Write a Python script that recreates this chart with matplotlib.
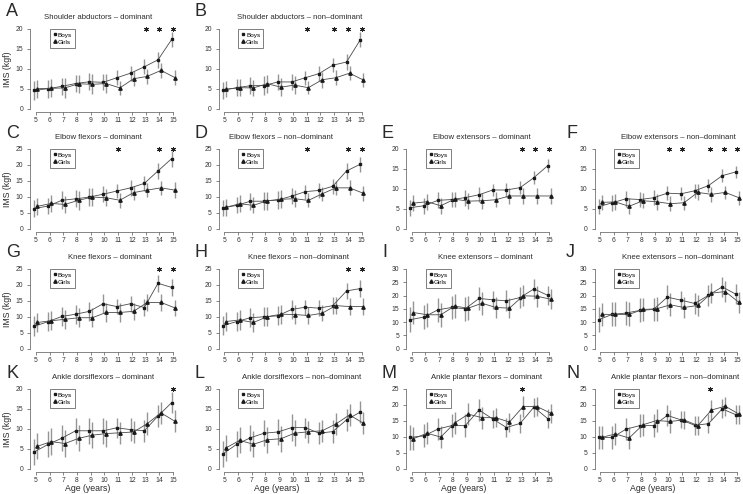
import matplotlib
matplotlib.use('Agg')
import matplotlib.pyplot as plt
from matplotlib.lines import Line2D
import numpy as np

plt.rcParams['font.family'] = ['Liberation Sans', 'DejaVu Sans']

ages = np.arange(5, 16)

# A  shoulder abductors - dominant
A_boys = [4.6, 5.0, 5.6, 6.3, 6.75, 6.6, 7.75, 8.9, 10.5, 12.25, 17.4]
A_girls = [5.0, 5.1, 5.2, 6.25, 6.1, 6.3, 5.2, 7.5, 8.1, 9.6, 7.8]
A_boys_sd = [2.4, 2.3, 2.2, 2.2, 2.1, 2.0, 1.9, 1.9, 1.9, 2.0, 1.8]
A_girls_sd = [2.3, 2.3, 2.5, 2.3, 2.5, 2.4, 1.8, 1.9, 1.9, 1.8, 1.8]
A_sig = [13, 14, 15]

# B  shoulder abductors - non-dominant
B_boys = [4.6, 5.25, 5.75, 5.8, 6.7, 6.7, 7.75, 8.8, 10.9, 11.7, 17.25]
B_girls = [4.9, 5.25, 5.2, 6.25, 5.4, 5.9, 5.25, 7.25, 7.75, 8.9, 7.2]
B_boys_sd = [2.2, 2.2, 2.2, 2.3, 2.1, 2.1, 1.8, 1.9, 1.8, 1.9, 1.9]
B_girls_sd = [2.1, 2.1, 2.0, 2.3, 2.3, 2.3, 1.7, 2.0, 1.9, 1.8, 1.8]
B_sig = [11, 13, 14, 15]

# C  elbow flexors - dominant
C_boys = [6.3, 7.1, 8.9, 9.35, 9.9, 10.8, 11.8, 12.8, 14.2, 18.1, 22.0]
C_girls = [7.0, 7.9, 7.6, 8.9, 9.9, 9.7, 8.9, 11.3, 12.1, 12.8, 12.1]
C_boys_sd = [2.7, 2.6, 2.8, 2.7, 2.7, 2.5, 2.3, 2.5, 2.3, 2.5, 2.5]
C_girls_sd = [2.6, 2.7, 2.6, 2.9, 2.8, 2.6, 2.3, 2.2, 2.3, 2.3, 2.4]
C_sig = [11, 14, 15]

# D  elbow flexors - non-dominant
D_boys = [6.5, 7.3, 8.6, 8.6, 9.0, 10.2, 11.6, 12.0, 13.3, 18.1, 20.2]
D_girls = [6.7, 7.8, 7.3, 8.75, 9.2, 9.4, 8.85, 10.9, 12.8, 12.8, 11.1]
D_boys_sd = [2.6, 2.5, 2.7, 2.8, 2.8, 2.5, 2.2, 2.4, 2.3, 2.4, 2.3]
D_girls_sd = [2.6, 2.7, 2.5, 2.8, 2.8, 2.6, 2.2, 2.3, 2.3, 2.4, 2.3]
D_sig = [11, 14, 15]

# E  elbow extensors - dominant
E_boys = [5.25, 5.75, 7.1, 7.3, 7.8, 8.5, 9.7, 9.7, 10.3, 12.8, 15.8]
E_girls = [6.4, 6.75, 5.75, 7.4, 6.9, 7.0, 7.25, 8.2, 8.2, 8.2, 8.2]
E_boys_sd = [2.0, 2.0, 2.0, 1.9, 2.0, 1.9, 1.6, 1.8, 1.7, 1.7, 1.6]
E_girls_sd = [2.0, 2.0, 2.0, 1.9, 2.0, 2.0, 1.9, 2.0, 2.0, 2.0, 1.9]
E_sig = [13, 14, 15]

# F  elbow extensors - non-dominant
F_boys = [5.5, 6.5, 7.5, 7.3, 7.75, 8.9, 8.75, 9.5, 10.8, 13.3, 14.25]
F_girls = [6.6, 6.7, 5.6, 7.0, 6.75, 6.25, 6.5, 9.1, 8.6, 9.1, 7.75]
F_boys_sd = [1.9, 2.0, 2.0, 1.9, 1.9, 1.8, 1.6, 1.7, 1.7, 1.6, 1.6]
F_girls_sd = [1.9, 2.0, 2.0, 1.9, 2.0, 1.9, 1.8, 2.0, 1.8, 1.7, 1.7]
F_sig = [10, 11, 13, 14, 15]

# G  knee flexors - dominant
G_boys = [7.0, 8.5, 10.1, 10.8, 11.7, 14.1, 13.2, 14.1, 12.9, 20.5, 19.2]
G_girls = [8.2, 8.75, 9.2, 9.7, 9.7, 11.35, 11.35, 11.7, 14.5, 14.5, 12.8]
G_boys_sd = [3.1, 3.0, 3.0, 3.0, 3.0, 3.0, 2.3, 2.5, 2.7, 2.7, 2.7]
G_girls_sd = [3.0, 3.0, 3.0, 3.0, 3.0, 3.0, 2.9, 2.6, 2.7, 2.7, 2.6]
G_sig = [14, 15]

# H  knee flexors - non-dominant
H_boys = [7.2, 8.5, 9.7, 10.0, 10.3, 12.3, 13.0, 12.7, 13.5, 18.1, 18.85]
H_girls = [8.5, 9.0, 8.2, 10.0, 10.8, 10.7, 10.4, 11.1, 13.5, 13.2, 13.2]
H_boys_sd = [3.0, 3.0, 3.0, 3.0, 3.0, 3.0, 2.3, 2.5, 2.6, 2.6, 2.7]
H_girls_sd = [3.0, 3.0, 3.0, 3.0, 3.0, 3.0, 2.7, 2.5, 2.6, 2.6, 2.6]
H_sig = [14, 15]

# I  knee extensors - dominant
I_boys = [10.9, 11.9, 14.6, 15.5, 15.0, 18.9, 18.4, 18.0, 19.25, 22.5, 20.1]
I_girls = [13.6, 12.75, 12.75, 16.0, 15.25, 17.1, 15.5, 15.25, 19.9, 19.75, 18.6]
I_boys_sd = [4.6, 4.5, 4.5, 4.5, 4.5, 4.5, 3.4, 4.0, 4.0, 3.8, 3.5]
I_girls_sd = [4.4, 4.5, 4.5, 4.5, 4.5, 4.4, 3.9, 3.8, 3.9, 3.9, 3.8]
I_sig = []

# J  knee extensors - non-dominant
J_boys = [10.9, 12.9, 13.4, 14.4, 14.75, 19.4, 18.25, 17.0, 20.1, 23.25, 20.5]
J_girls = [12.9, 12.9, 12.9, 14.75, 15.0, 16.5, 15.5, 16.25, 20.9, 21.5, 17.4]
J_boys_sd = [4.6, 4.5, 4.5, 4.5, 4.5, 4.5, 3.4, 4.0, 4.0, 3.8, 3.8]
J_girls_sd = [4.4, 4.5, 4.5, 4.5, 4.5, 4.4, 3.8, 3.8, 3.9, 3.9, 3.8]
J_sig = []

# K  ankle dorsiflexors - dominant
K_boys = [4.2, 6.1, 7.65, 9.5, 9.5, 9.5, 10.25, 9.8, 9.5, 13.2, 16.6]
K_girls = [5.6, 6.8, 6.3, 7.6, 8.4, 8.8, 9.0, 9.2, 11.3, 14.0, 11.9]
K_boys_sd = [3.2, 3.3, 3.3, 3.3, 3.3, 3.3, 2.5, 2.8, 2.8, 2.8, 2.6]
K_girls_sd = [3.3, 3.3, 3.3, 3.3, 3.3, 3.3, 2.8, 2.8, 2.8, 2.8, 2.7]
K_sig = [15]

# L  ankle dorsiflexors - non-dominant
L_boys = [3.7, 6.1, 7.75, 8.9, 9.2, 10.3, 10.3, 8.9, 9.3, 12.25, 14.2]
L_girls = [5.2, 7.1, 6.1, 7.25, 7.5, 8.9, 9.25, 9.5, 11.2, 13.5, 11.4]
L_boys_sd = [3.2, 3.3, 3.3, 3.3, 3.3, 3.3, 2.5, 2.8, 2.8, 2.8, 2.8]
L_girls_sd = [3.2, 3.3, 3.3, 3.3, 3.3, 3.3, 2.8, 2.8, 2.8, 2.8, 2.7]
L_sig = []

# M  ankle plantar flexors - dominant
M_boys = [9.8, 10.3, 12.4, 13.5, 13.5, 18.4, 15.6, 12.9, 14.2, 19.3, 15.7]
M_girls = [9.4, 11.1, 9.9, 14.3, 17.1, 16.0, 16.0, 14.6, 19.5, 19.5, 17.4]
M_boys_sd = [3.8, 3.6, 3.5, 3.5, 3.5, 3.3, 2.7, 3.0, 3.0, 3.0, 3.0]
M_girls_sd = [3.6, 3.5, 3.5, 3.5, 3.5, 3.5, 2.9, 3.0, 3.3, 3.0, 3.0]
M_sig = [13]

# N  ankle plantar flexors - non-dominant
N_boys = [9.8, 9.8, 12.4, 13.5, 13.5, 16.7, 15.3, 13.6, 14.1, 18.75, 16.9]
N_girls = [9.8, 10.9, 9.6, 13.75, 15.1, 14.8, 15.3, 13.5, 18.4, 19.6, 17.1]
N_boys_sd = [3.6, 3.5, 3.5, 3.5, 3.5, 3.3, 2.7, 3.0, 3.0, 3.0, 3.0]
N_girls_sd = [3.5, 3.5, 3.5, 3.5, 3.5, 3.5, 2.9, 3.0, 3.0, 3.0, 3.0]
N_sig = [13]

titles = {
    'A': 'Shoulder abductors – dominant', 'B': 'Shoulder abductors – non–dominant',
    'C': 'Elbow flexors – dominant', 'D': 'Elbow flexors – non–dominant',
    'E': 'Elbow extensors – dominant', 'F': 'Elbow extensors – non–dominant',
    'G': 'Knee flexors – dominant', 'H': 'Knee flexors – non–dominant',
    'I': 'Knee extensors – dominant', 'J': 'Knee extensors – non–dominant',
    'K': 'Ankle dorsiflexors – dominant', 'L': 'Ankle dorsiflexors – non–dominant',
    'M': 'Ankle plantar flexors – dominant', 'N': 'Ankle plantar flexors – non–dominant',
}
ymaxes = {'A': 20, 'B': 20, 'C': 25, 'D': 25, 'E': 20, 'F': 20, 'G': 25, 'H': 25,
          'I': 30, 'J': 30, 'K': 20, 'L': 20, 'M': 25, 'N': 25}

data = {
    'A': (A_boys, A_girls, A_boys_sd, A_girls_sd, A_sig),
    'B': (B_boys, B_girls, B_boys_sd, B_girls_sd, B_sig),
    'C': (C_boys, C_girls, C_boys_sd, C_girls_sd, C_sig),
    'D': (D_boys, D_girls, D_boys_sd, D_girls_sd, D_sig),
    'E': (E_boys, E_girls, E_boys_sd, E_girls_sd, E_sig),
    'F': (F_boys, F_girls, F_boys_sd, F_girls_sd, F_sig),
    'G': (G_boys, G_girls, G_boys_sd, G_girls_sd, G_sig),
    'H': (H_boys, H_girls, H_boys_sd, H_girls_sd, H_sig),
    'I': (I_boys, I_girls, I_boys_sd, I_girls_sd, I_sig),
    'J': (J_boys, J_girls, J_boys_sd, J_girls_sd, J_sig),
    'K': (K_boys, K_girls, K_boys_sd, K_girls_sd, K_sig),
    'L': (L_boys, L_girls, L_boys_sd, L_girls_sd, L_sig),
    'M': (M_boys, M_girls, M_boys_sd, M_girls_sd, M_sig),
    'N': (N_boys, N_girls, N_boys_sd, N_girls_sd, N_sig),
}

# grid slots (row, col)
slots = {'A': (0, 0), 'B': (0, 1),
         'C': (1, 0), 'D': (1, 1), 'E': (1, 2), 'F': (1, 3),
         'G': (2, 0), 'H': (2, 1), 'I': (2, 2), 'J': (2, 3),
         'K': (3, 0), 'L': (3, 1), 'M': (3, 2), 'N': (3, 3)}
title_x = {'A': 0.455, 'B': 0.548, 'C': 0.459, 'D': 0.42, 'E': 0.509, 'F': 0.564,
           'G': 0.536, 'H': 0.54, 'I': 0.535, 'J': 0.564, 'K': 0.492, 'L': 0.56,
           'M': 0.543, 'N': 0.547}

W, H = 743, 494
col_left = [30.3, 218.8, 406.2, 594.5]
row_top = [25.8, 145.8, 265.8, 385.8]
ax_w, ax_h = 148.3, 86.0
letter_x = [6, 195, 382, 566]
letter_y = [11, 134, 252, 373]

fig = plt.figure(figsize=(W / 100, H / 100), dpi=100)
line_c = '#4a4a4a'
err_c = '#959595'
ink = '#2a2a2a'

for key, (boys, girls, bsd, gsd, sig) in data.items():
    r, c = slots[key]
    ymax = ymaxes[key]
    ax = fig.add_axes([col_left[c] / W, 1 - (row_top[r] + ax_h) / H, ax_w / W, ax_h / H])
    ax.patch.set_alpha(0)
    xb = ages - 0.1
    xg = ages + 0.12
    ax.errorbar(xb, boys, yerr=bsd, fmt='none', ecolor=err_c, elinewidth=1.0, capsize=0)
    ax.errorbar(xg, girls, yerr=gsd, fmt='none', ecolor=err_c, elinewidth=1.0, capsize=0)
    ax.plot(xb, boys, '-', color=line_c, lw=0.6, marker='s', ms=2.1, mec='#1a1a1a', mfc='#1a1a1a')
    ax.plot(xg, girls, '-', color=line_c, lw=0.6, marker='^', ms=2.4, mec='#1a1a1a', mfc='#1a1a1a')
    if sig:
        ax.plot(sig, [ymax] * len(sig), ls='none', marker=(6, 2, 0), ms=3.6, mew=0.7, color='#222')

    ax.set_xlim(4.6, 15.4)
    ax.set_ylim(-0.04 * ymax, 1.04 * ymax)
    for s in ['top', 'right']:
        ax.spines[s].set_visible(False)
    ax.spines['left'].set_bounds(0, ymax)
    ax.spines['bottom'].set_bounds(5, 15)
    for s in ['left', 'bottom']:
        ax.spines[s].set_linewidth(0.5)
        ax.spines[s].set_color('#555555')
    ax.set_xticks(ages)
    ax.set_yticks(np.arange(0, ymax + 1, 5))
    ax.tick_params(labelsize=4.9, length=2.5, width=0.5, color='#555555', labelcolor='#333333')
    ax.tick_params(axis='x', pad=1.2)
    ax.tick_params(axis='y', pad=2.5)

    ax.text(title_x[key], 1.1, titles[key], transform=ax.transAxes, ha='center', va='center',
            fontsize=5.6, color=ink)
    fig.text(letter_x[c] / W, 1 - letter_y[r] / H, key, fontsize=13, ha='left', va='center',
             color=ink)

    handles = [Line2D([], [], ls='none', marker='s', ms=2.1, color='#1a1a1a', label='Boys'),
               Line2D([], [], ls='none', marker='^', ms=2.4, color='#1a1a1a', label='Girls')]
    leg = ax.legend(handles=handles, loc='upper left', bbox_to_anchor=(0.132, 0.963),
                    fontsize=4.6, frameon=True, fancybox=False, borderpad=0.5,
                    handlelength=0.5, handletextpad=0.2, labelspacing=0.25, borderaxespad=0)
    leg.get_frame().set_edgecolor('#444444')
    leg.get_frame().set_linewidth(0.6)

    if c == 0:
        fig.text(7.5 / W, 1 - (row_top[r] + ax_h / 2) / H, 'IMS (kgf)', rotation=90,
                 ha='center', va='center', fontsize=6.3, color=ink)
    if r == 3:
        ax.text(0.39, -0.193, 'Age (years)', transform=ax.transAxes, ha='center', va='center',
                fontsize=6.3, color=ink)

fig.savefig('out.png', dpi=100)
